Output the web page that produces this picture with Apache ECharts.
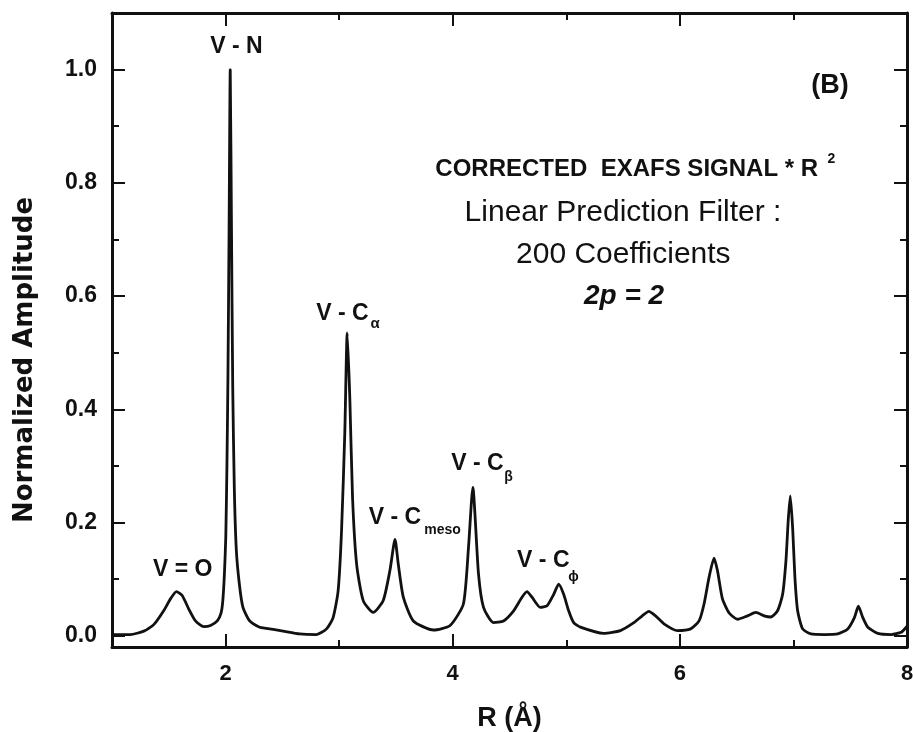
<!DOCTYPE html>
<html>
<head>
<meta charset="utf-8">
<script src="https://cdn.jsdelivr.net/npm/echarts@6/dist/echarts.min.js"></script>
<style>
html,body{margin:0;padding:0;background:#fff;}
#chart{width:913px;height:732px;}
</style>
</head>
<body>
<div id="chart"></div>
<script>
var rValues = [1.00,1.16,1.28,1.37,1.455,1.515,1.567,1.618,1.676,1.735,1.808,1.868,1.927,1.960,1.975,1.990,2.002,2.012,2.021,2.031,2.041,2.052,2.063,2.077,2.095,2.122,2.153,2.212,2.300,2.359,2.506,2.653,2.800,2.889,2.947,2.991,3.021,3.050,3.071,3.094,3.118,3.154,3.212,3.300,3.388,3.447,3.492,3.521,3.565,3.653,3.830,3.977,4.094,4.139,4.177,4.227,4.271,4.359,4.447,4.536,4.610,4.654,4.698,4.771,4.831,4.889,4.933,4.977,5.021,5.065,5.124,5.330,5.477,5.595,5.669,5.727,5.786,5.860,5.978,6.095,6.169,6.213,6.257,6.301,6.331,6.375,6.434,6.508,6.596,6.669,6.742,6.801,6.860,6.905,6.934,6.954,6.972,6.993,7.013,7.037,7.081,7.154,7.272,7.390,7.478,7.537,7.572,7.611,7.655,7.743,7.861,7.949,7.993,8.000];
// Normalized amplitude values
var ampValues = [0.002,0.002,0.008,0.020,0.044,0.065,0.078,0.071,0.047,0.026,0.016,0.018,0.026,0.040,0.060,0.110,0.175,0.300,0.460,0.720,1.000,0.720,0.440,0.260,0.150,0.090,0.050,0.026,0.015,0.013,0.008,0.003,0.002,0.012,0.032,0.079,0.185,0.360,0.535,0.420,0.244,0.126,0.062,0.041,0.062,0.115,0.170,0.126,0.068,0.026,0.010,0.018,0.056,0.156,0.262,0.109,0.050,0.023,0.026,0.044,0.068,0.078,0.068,0.050,0.053,0.073,0.091,0.073,0.044,0.023,0.015,0.004,0.009,0.023,0.035,0.043,0.035,0.021,0.009,0.012,0.026,0.056,0.103,0.137,0.115,0.065,0.040,0.029,0.035,0.041,0.035,0.033,0.044,0.073,0.132,0.203,0.247,0.191,0.103,0.044,0.012,0.003,0.002,0.003,0.012,0.032,0.052,0.032,0.015,0.004,0.002,0.006,0.015,0.017];

var xRange = [1, 8];
var yRange = [-0.02, 1.1];

var seriesData = rValues.map(function (r, i) { return [r, ampValues[i]]; });

var FONT = '"Liberation Sans", Arial, Helvetica, sans-serif';
var ink = '#111';

function xAxisDef(pos, major, showLabels, showLine) {
  var a = {
    type: 'value', position: pos, min: xRange[0], max: xRange[1],
    axisLine: { show: showLine, onZero: false, lineStyle: { color: ink, width: 3 } },
    axisTick: { show: true, inside: true, length: major ? 13 : 7, lineStyle: { color: ink, width: 2 } },
    splitLine: { show: false },
    axisLabel: { show: showLabels, color: ink, fontFamily: FONT, fontWeight: 'bold', fontSize: 22, margin: 16, showMinLabel: false }
  };
  if (major) { a.splitNumber = 4; } else { a.interval = 1; }
  return a;
}
function yAxisDef(pos, major, showLabels, showLine) {
  return {
    type: 'value', position: pos, min: yRange[0], max: yRange[1],
    splitNumber: major ? 5 : 10,
    axisLine: { show: showLine, onZero: false, lineStyle: { color: ink, width: 3 } },
    axisTick: { show: true, inside: true, length: major ? 13 : 7, lineStyle: { color: ink, width: 2 } },
    splitLine: { show: false },
    axisLabel: { show: showLabels, color: ink, fontFamily: FONT, fontWeight: 'bold', fontSize: 23, margin: 15,
      showMinLabel: false, showMaxLabel: false,
      formatter: function (v) { return v.toFixed(1); } }
  };
}

var xAxes = [
  xAxisDef('bottom', true, true, true),
  xAxisDef('bottom', false, false, false),
  xAxisDef('top', true, false, true),
  xAxisDef('top', false, false, false)
];
xAxes[0].name = 'R (Å)';
xAxes[0].nameLocation = 'middle';
xAxes[0].nameGap = 58;
xAxes[0].nameTextStyle = { color: ink, fontFamily: FONT, fontWeight: 'bold', fontSize: 27 };

var yAxes = [
  yAxisDef('left', true, true, true),
  yAxisDef('left', false, false, false),
  yAxisDef('right', true, false, true),
  yAxisDef('right', false, false, false)
];

function txt(x, y, text, size, weight, style, family, rotation) {
  return {
    type: 'text', x: x, y: y, rotation: rotation || 0, silent: true,
    style: {
      text: text, fill: ink,
      font: (style || 'normal') + ' ' + (weight || 'bold') + ' ' + size + 'px ' + (family || FONT),
      textAlign: 'center', textVerticalAlign: 'middle',
      align: 'center', verticalAlign: 'middle'
    }
  };
}

var annotations = [
  txt(25, 360, 'Normalized Amplitude', 26, 'bold', 'normal', '"DejaVu Sans", sans-serif', Math.PI / 2),
  txt(236.5, 46.5, 'V - N', 23),
  txt(182.7, 570, 'V = O', 23),
  txt(342.5, 313.5, 'V - C', 23), txt(375, 323.5, 'α', 15),
  txt(395, 517.5, 'V - C', 23), txt(442.5, 530, 'meso', 14),
  txt(477.5, 464, 'V - C', 23), txt(508.5, 477.5, 'β', 14),
  txt(543.3, 561, 'V - C', 23), txt(573.5, 577, 'ϕ', 14),
  txt(830, 86, '(B)', 27),
  txt(626.7, 169.5, 'CORRECTED  EXAFS SIGNAL * R', 24), txt(831.5, 159, '2', 14),
  txt(623, 212.5, 'Linear Prediction Filter :', 30, 'normal'),
  txt(623.3, 255, '200 Coefficients', 30, 'normal'),
  txt(624, 296, '2p = 2', 28, 'bold', 'italic')
];

var chart = echarts.init(document.getElementById('chart'), null, { renderer: 'canvas' });
chart.setOption({
  backgroundColor: '#fff',
  animation: false,
  grid: { left: 112, right: 6, top: 13, bottom: 85, containLabel: false, outerBoundsMode: 'none' },
  xAxis: xAxes,
  yAxis: yAxes,
  series: [{
    type: 'line', xAxisIndex: 0, yAxisIndex: 0,
    data: seriesData, showSymbol: false, smooth: 0.2,
    lineStyle: { color: ink, width: 2.8 }
  }],
  graphic: annotations
});
</script>
</body>
</html>
